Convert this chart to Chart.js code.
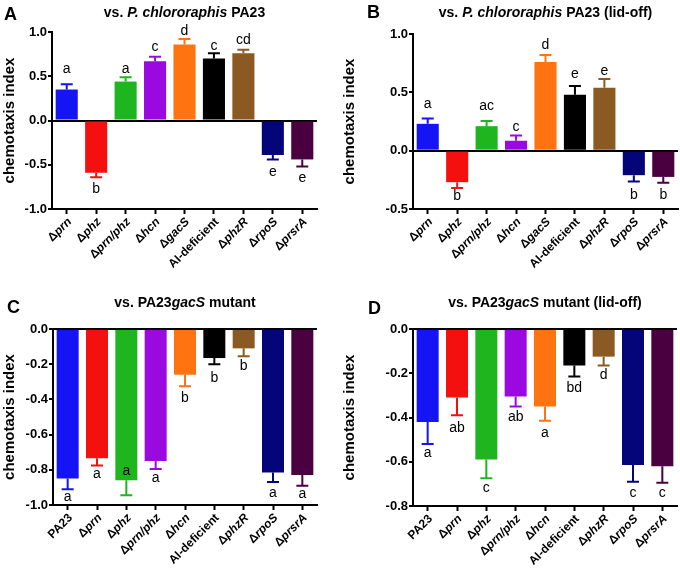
<!DOCTYPE html>
<html>
<head>
<meta charset="utf-8">
<script src="https://cdn.jsdelivr.net/npm/chart.js@4"></script>
<style>
  body { margin: 0; background: #fff; }
  #wrap { position: relative; width: 680px; height: 569px; }
  canvas { position: absolute; }
</style>
</head>
<body>
<div id="wrap">
  <canvas id="chartA" width="340" height="290" style="left:0;top:0"></canvas>
  <canvas id="chartB" width="340" height="290" style="left:340px;top:0"></canvas>
  <canvas id="chartC" width="340" height="279" style="left:0;top:290px"></canvas>
  <canvas id="chartD" width="340" height="279" style="left:340px;top:290px"></canvas>
</div>
<script>
// --- data --- //
const labelsAB = ["Δprn", "Δphz", "Δprn/phz", "Δhcn", "ΔgacS", "AI-deficient", "ΔphzR", "ΔrpoS", "ΔprsrA"];
const labelsCD = ["PA23", "Δprn", "Δphz", "Δprn/phz", "Δhcn", "AI-deficient", "ΔphzR", "ΔrpoS", "ΔprsrA"];

const barColors = ["#1414f5", "#f51010", "#1fb51f", "#9a0ae0", "#ff7410", "#000000", "#8a5a22", "#05057a", "#4a0040"];

const meanA = [0.35, -0.59, 0.44, 0.67, 0.86, 0.70, 0.76, -0.39, -0.44];
const errA = [0.06, 0.05, 0.05, 0.05, 0.06, 0.06, 0.04, 0.05, 0.08];
const letterA = ["a", "b", "a", "c", "d", "c", "cd", "e", "e"];
const letterPosA = [0.54, -0.82, 0.54, 0.78, 0.97, 0.80, 0.86, -0.63, -0.69];

const meanB = [0.23, -0.27, 0.21, 0.085, 0.76, 0.48, 0.54, -0.21, -0.225];
const errB = [0.045, 0.05, 0.045, 0.045, 0.06, 0.075, 0.075, 0.055, 0.05];
const letterB = ["a", "b", "ac", "c", "d", "e", "e", "b", "b"];
const letterPosB = [0.365, -0.42, 0.35, 0.17, 0.87, 0.62, 0.645, -0.41, -0.41];

const meanC = [-0.85, -0.735, -0.86, -0.75, -0.26, -0.165, -0.11, -0.815, -0.83];
const errC = [0.06, 0.04, 0.085, 0.045, 0.065, 0.035, 0.045, 0.055, 0.06];
const letterC = ["a", "a", "a", "a", "b", "b", "b", "a", "a"];
const letterPosC = [-0.98, -0.845, -0.83, -0.87, -0.417, -0.30, -0.233, -0.953, -0.96];

const meanD = [-0.42, -0.31, -0.59, -0.305, -0.35, -0.165, -0.125, -0.615, -0.62];
const errD = [0.10, 0.08, 0.085, 0.045, 0.065, 0.05, 0.04, 0.075, 0.075];
const letterD = ["a", "ab", "c", "ab", "a", "bd", "d", "c", "c"];
const letterPosD = [-0.578, -0.465, -0.737, -0.415, -0.488, -0.284, -0.228, -0.76, -0.76];

// title pieces: [text, italic]
const titleA = [["vs. ", false], ["P. chlororaphis", true], [" PA23", false]];
const titleB = [["vs. ", false], ["P. chlororaphis", true], [" PA23 (lid-off)", false]];
const titleC = [["vs. PA23", false], ["gacS", true], [" mutant", false]];
const titleD = [["vs. PA23", false], ["gacS", true], [" mutant (lid-off)", false]];

const FAMILY = '"Liberation Sans", Arial, sans-serif';
Chart.defaults.font.family = FAMILY;
Chart.defaults.color = "#000";

// split "Δxyz" into upright delta + italic gene name
function labelParts(label) {
  if (label.startsWith("Δ")) return [["Δ", false], [label.slice(1), true]];
  return [[label, false]];
}

function drawParts(ctx, parts, size, align) {
  let widths = parts.map(([t, it]) => {
    ctx.font = (it ? "italic " : "") + "bold " + size + "px " + FAMILY;
    return ctx.measureText(t).width;
  });
  let total = widths.reduce((a, b) => a + b, 0);
  let pos = align === "right" ? -total : -total / 2;
  ctx.textAlign = "left";
  parts.forEach(([t, it], i) => {
    ctx.font = (it ? "italic " : "") + "bold " + size + "px " + FAMILY;
    ctx.fillText(t, pos, 0);
    pos += widths[i];
  });
}

const extrasPlugin = {
  id: "extras",
  afterDatasetsDraw(chart) {
    const p = chart.options.plugins.extras;
    const ctx = chart.ctx;
    const y = chart.scales.y;
    const meta = chart.getDatasetMeta(0);
    ctx.save();
    meta.data.forEach((bar, i) => {
      let v = p.values[i];
      let e = p.errors[i];
      let y0 = y.getPixelForValue(v);
      let y1 = y.getPixelForValue(v + Math.sign(v) * e);
      ctx.strokeStyle = p.colors[i];
      ctx.lineWidth = 2;
      ctx.beginPath();
      ctx.moveTo(bar.x, y0);
      ctx.lineTo(bar.x, y1);
      ctx.moveTo(bar.x - 6, y1);
      ctx.lineTo(bar.x + 6, y1);
      ctx.stroke();

      ctx.fillStyle = "#000";
      ctx.font = "14px " + FAMILY;
      ctx.textAlign = "center";
      ctx.textBaseline = "alphabetic";
      ctx.fillText(p.letters[i], bar.x, y.getPixelForValue(p.letterPos[i]));
    });
    ctx.restore();
  },
  afterDraw(chart) {
    const p = chart.options.plugins.extras;
    const ctx = chart.ctx;
    const x = chart.scales.x;
    const area = chart.chartArea;
    ctx.save();
    ctx.fillStyle = "#000";
    ctx.textBaseline = "middle";
    p.labels.forEach((lab, i) => {
      ctx.save();
      ctx.translate(x.getPixelForValue(i) + 3, area.bottom + 11);
      ctx.rotate(-Math.PI / 4);
      drawParts(ctx, labelParts(lab), 12, "right");
      ctx.restore();
    });

    ctx.textBaseline = "alphabetic";
    ctx.save();
    ctx.translate((area.left + area.right) / 2, 17);
    drawParts(ctx, p.title, 14, "center");
    ctx.restore();

    ctx.font = "bold 18px " + FAMILY;
    ctx.textAlign = "left";
    ctx.fillText(p.panel, p.panelX, p.panelY);
    ctx.restore();
  },
};

function makePanel(id, cfg) {
  const canvas = document.getElementById(id);
  const W = canvas.width, H = canvas.height;
  return new Chart(canvas, {
    type: "bar",
    data: {
      labels: cfg.labels,
      datasets: [
        {
          data: cfg.values,
          backgroundColor: barColors,
          borderWidth: 0,
          barPercentage: 0.75,
          categoryPercentage: 1,
        },
      ],
    },
    options: {
      responsive: false,
      animation: false,
      devicePixelRatio: 1,
      layout: {
        autoPadding: false,
        padding: { left: 0, top: cfg.top, right: W - cfg.right, bottom: 0 },
      },
      scales: {
        x: {
          offset: true,
          ticks: { display: false },
          grid: {
            offset: false,
            drawOnChartArea: false,
            drawTicks: true,
            tickLength: 5,
            tickColor: "#000",
            tickWidth: 2,
          },
          border: { color: "#000", width: 2 },
          afterFit: (s) => { s.height = H - cfg.bottom; },
        },
        y: {
          z: 1,
          min: cfg.min,
          max: cfg.max,
          ticks: {
            stepSize: cfg.step,
            padding: 1,
            font: { size: 13, weight: "bold" },
            callback: (v) => Number(v).toFixed(1),
          },
          grid: {
            color: (c) => (c.tick && Math.abs(c.tick.value) < 1e-9 ? "#000" : "rgba(0,0,0,0)"),
            lineWidth: 2,
            drawTicks: true,
            tickLength: 4,
            tickColor: "#000",
            tickWidth: 2,
          },
          border: { color: "#000", width: 2 },
          title: {
            display: true,
            text: "chemotaxis index",
            font: { size: 15, weight: "bold" },
            padding: 1,
          },
          afterFit: (s) => { s.width = cfg.left; },
        },
      },
      plugins: {
        legend: { display: false },
        tooltip: { enabled: false },
        extras: {
          labels: cfg.labels,
          values: cfg.values,
          errors: cfg.errors,
          colors: barColors,
          letters: cfg.letters,
          letterPos: cfg.letterPos,
          title: cfg.title,
          panel: cfg.panel,
          panelX: cfg.panelX,
          panelY: cfg.panelY,
        },
      },
    },
    plugins: [extrasPlugin],
  });
}

makePanel("chartA", {
  labels: labelsAB, values: meanA, errors: errA, letters: letterA, letterPos: letterPosA,
  title: titleA, panel: "A", panelX: 4, panelY: 20,
  min: -1, max: 1, step: 0.5, left: 52, right: 317, top: 32, bottom: 209,
});
makePanel("chartB", {
  labels: labelsAB, values: meanB, errors: errB, letters: letterB, letterPos: letterPosB,
  title: titleB, panel: "B", panelX: 27, panelY: 18,
  min: -0.5, max: 1, step: 0.5, left: 73, right: 338, top: 34, bottom: 209,
});
makePanel("chartC", {
  labels: labelsCD, values: meanC, errors: errC, letters: letterC, letterPos: letterPosC,
  title: titleC, panel: "C", panelX: 7, panelY: 23,
  min: -1, max: 0, step: 0.2, left: 53, right: 317, top: 39, bottom: 215,
});
makePanel("chartD", {
  labels: labelsCD, values: meanD, errors: errD, letters: letterD, letterPos: letterPosD,
  title: titleD, panel: "D", panelX: 28, panelY: 24,
  min: -0.8, max: 0, step: 0.2, left: 73, right: 337, top: 39, bottom: 216,
});
</script>
</body>
</html>
